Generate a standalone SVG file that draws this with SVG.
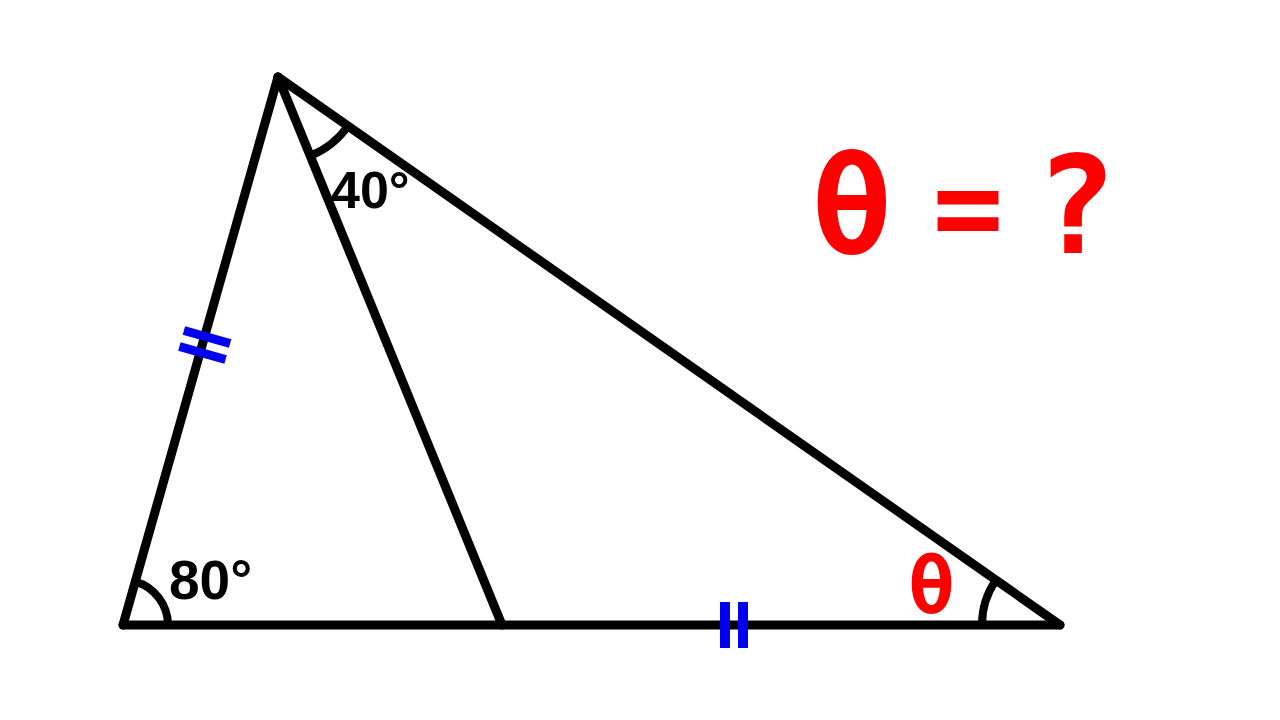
<svg xmlns="http://www.w3.org/2000/svg" width="1280" height="720" viewBox="0 0 1280 720">
<style>
.ln{stroke:#000;stroke-width:9;fill:none;stroke-linecap:round}
.arc{stroke:#000;stroke-width:8;fill:none}
.tick{fill:#0000ee}
.lbl{font-family:"Liberation Sans",Arial,sans-serif;font-weight:bold;fill:#000}
.red{font-family:"DejaVu Sans Mono",monospace;font-weight:bold;fill:#ff0000}
</style>
<rect width="1280" height="720" fill="#fff"/>
<g id="connectors">
<line class="ln" x1="123" y1="625" x2="278" y2="77"/>
<line class="ln" x1="278" y1="77" x2="1060" y2="625"/>
<line class="ln" x1="123" y1="625" x2="1060" y2="625"/>
<line class="ln" x1="278" y1="77" x2="502" y2="625"/>
</g>
<g id="angle-A">
<path class="arc" d="M310,156 A85,85 0 0 0 348,126"/>
<text class="lbl" x="331" y="208" font-size="52">40°</text>
</g>
<g id="angle-B">
<path class="arc" d="M135.2,581.7 A45,45 0 0 1 168,625"/>
<text class="lbl" x="169" y="599" font-size="55">80°</text>
</g>
<g id="angle-C">
<path class="arc" d="M996,580 A78,78 0 0 0 982,625"/>
<text class="red" x="908" y="613" font-size="78">θ</text>
</g>
<g id="ticks-AB">
<rect class="tick" x="-24" y="-4.5" width="48" height="9" transform="translate(207,337) rotate(15.8)"/>
<rect class="tick" x="-24" y="-4.5" width="48" height="9" transform="translate(202.5,353) rotate(15.8)"/>
</g>
<g id="ticks-DC">
<rect class="tick" x="720" y="602" width="10" height="46"/>
<rect class="tick" x="738" y="602" width="10" height="46"/>
</g>
<g id="question">
<text class="red" x="852" y="253" font-size="135" text-anchor="middle">θ</text>
<text class="red" x="968" y="248" font-size="118" text-anchor="middle">=</text>
<text class="red" x="1076" y="253" font-size="135" text-anchor="middle">?</text>
</g>
</svg>
